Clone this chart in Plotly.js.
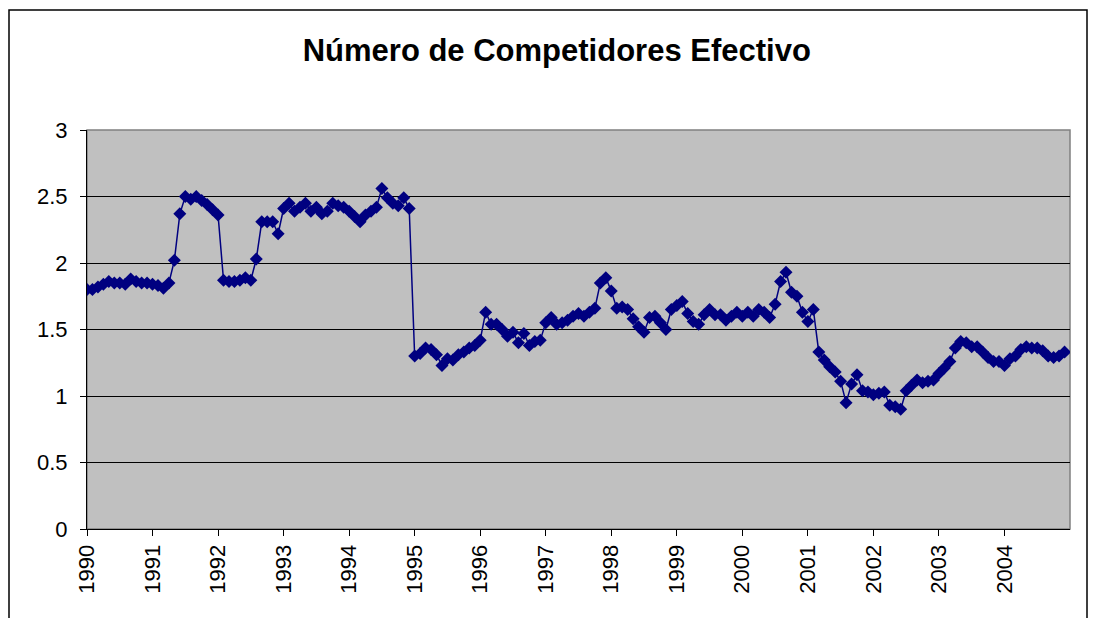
<!DOCTYPE html>
<html>
<head>
<meta charset="utf-8">
<script src="https://cdn.plot.ly/plotly-3.0.1.min.js"></script>
<style>html,body{margin:0;padding:0;background:#fff;}#chart{width:1096px;height:618px;}</style>
</head>
<body>
<div id="chart"></div>
<script>
// Monthly values, Jan 1990 .. Dec 2004
const years = ["1990","1991","1992","1993","1994","1995","1996","1997","1998","1999","2000","2001","2002","2003","2004"];
const v1990 = [1.80,1.80,1.82,1.84,1.86,1.85,1.85,1.84,1.88,1.86,1.85,1.85];
const v1991 = [1.84,1.83,1.81,1.85,2.02,2.37,2.50,2.48,2.50,2.47,2.44,2.40];
const v1992 = [2.36,1.87,1.86,1.86,1.87,1.89,1.87,2.03,2.31,2.31,2.31,2.22];
const v1993 = [2.41,2.45,2.39,2.42,2.45,2.39,2.42,2.37,2.39,2.45,2.43,2.42];
const v1994 = [2.39,2.35,2.31,2.36,2.39,2.42,2.56,2.49,2.45,2.43,2.49,2.41];
const v1995 = [1.30,1.32,1.36,1.35,1.31,1.23,1.28,1.27,1.31,1.33,1.36,1.38];
const v1996 = [1.42,1.63,1.54,1.54,1.50,1.45,1.48,1.40,1.47,1.38,1.41,1.42];
const v1997 = [1.55,1.59,1.54,1.55,1.57,1.60,1.62,1.60,1.63,1.66,1.85,1.89];
const v1998 = [1.79,1.66,1.67,1.65,1.58,1.52,1.48,1.59,1.60,1.55,1.50,1.65];
const v1999 = [1.68,1.71,1.62,1.56,1.54,1.61,1.65,1.61,1.61,1.57,1.60,1.63];
const v2000 = [1.60,1.63,1.60,1.65,1.63,1.59,1.69,1.86,1.93,1.78,1.75,1.63];
const v2001 = [1.56,1.65,1.33,1.27,1.22,1.18,1.11,0.95,1.09,1.16,1.04,1.03];
const v2002 = [1.01,1.02,1.03,0.93,0.92,0.90,1.04,1.08,1.12,1.10,1.11,1.12];
const v2003 = [1.17,1.21,1.26,1.36,1.41,1.40,1.37,1.37,1.33,1.29,1.26,1.26];
const v2004 = [1.23,1.28,1.30,1.35,1.37,1.36,1.36,1.34,1.30,1.29,1.30,1.33];
const yTicks = [0,0.5,1,1.5,2,2.5,3];
const yTickText = ["0","0.5","1","1.5","2","2.5","3"];

const values = [].concat(v1990,v1991,v1992,v1993,v1994,v1995,v1996,v1997,v1998,v1999,v2000,v2001,v2002,v2003,v2004);
const idx = values.map((_, i) => i);
const yearTickVals = years.map((_, i) => i * 12);

const L = 87, R = 1070, T = 130, B = 529, W = 1096, H = 618;
const pw = R - L, ph = B - T;
const px = x => (x - L) / pw;
const py = y => (B - y) / ph;

const trace = {
  x: idx, y: values, type: 'scatter', mode: 'lines+markers',
  line: {color: '#000080', width: 1.5},
  marker: {symbol: 'diamond', size: 10, color: '#000080', line: {width: 0}},
  hoverinfo: 'skip'
};

const layout = {
  width: W, height: H,
  margin: {l: L, r: W - R, t: T, b: H - B},
  paper_bgcolor: '#ffffff',
  plot_bgcolor: '#c0c0c0',
  showlegend: false,
  font: {family: 'Liberation Sans, Arial, sans-serif', color: '#000'},
  title: {text: '<b>Número de Competidores Efectivo</b>', font: {size: 31, family: 'Liberation Sans, Arial, sans-serif', color: '#000'},
          x: 0.508, xanchor: 'center', y: 1 - 50 / H, yanchor: 'middle'},
  xaxis: {
    range: [0, 180], tickmode: 'array', tickvals: yearTickVals, ticktext: years,
    tickangle: -90, tickfont: {size: 22}, ticks: 'outside', ticklen: 6, tickcolor: '#000',
    showgrid: false, zeroline: false, showline: true, linecolor: '#000', linewidth: 1,
    fixedrange: true
  },
  yaxis: {
    range: [0, 3], tickmode: 'array', tickvals: yTicks, ticktext: yTickText,
    tickfont: {size: 22}, ticks: 'outside', ticklen: 6, tickcolor: '#000', ticklabelstandoff: 8,
    showgrid: true, gridcolor: '#000', gridwidth: 1, zeroline: false,
    showline: true, linecolor: '#000', linewidth: 1, fixedrange: true
  },
  shapes: [
    {type: 'rect', xref: 'paper', yref: 'paper', x0: 0, x1: 1, y0: 0, y1: 1,
     line: {color: '#808080', width: 1.5}, layer: 'below'},
    {type: 'rect', xref: 'paper', yref: 'paper', x0: px(9), x1: px(1087), y0: py(10), y1: py(640),
     line: {color: '#000', width: 1.5}, fillcolor: 'rgba(0,0,0,0)', layer: 'above'}
  ]
};

Plotly.newPlot('chart', [trace], layout, {displayModeBar: false, staticPlot: true});
</script>
</body>
</html>
